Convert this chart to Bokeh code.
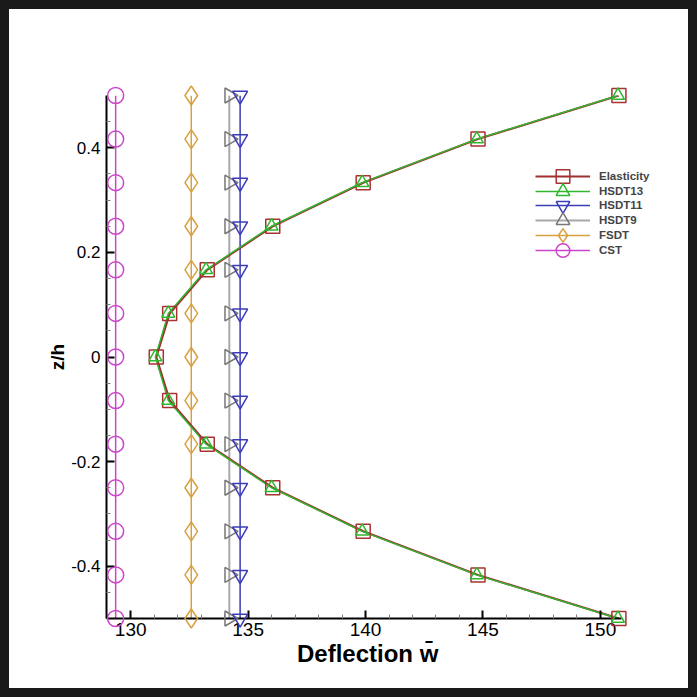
import numpy as np
from bokeh.plotting import figure
from bokeh.models import Legend, LegendItem, FixedTicker, Range1d
from bokeh.embed import file_html
from bokeh.resources import INLINE

# ---- data ----
z = [0.5, 0.4167, 0.3333, 0.25, 0.1667, 0.0833, 0.0,
     -0.0833, -0.1667, -0.25, -0.3333, -0.4167, -0.5]
elasticity = [150.79, 144.79, 139.90, 136.05, 133.26, 131.66, 131.09,
              131.66, 133.26, 136.05, 139.90, 144.79, 150.79]
hsdt13 = [150.75, 144.74, 139.86, 136.00, 133.21, 131.60, 131.05,
          131.60, 133.21, 136.00, 139.86, 144.74, 150.75]
hsdt11 = [134.66, 134.66, 134.66, 134.66, 134.66, 134.66, 134.66,
          134.66, 134.66, 134.66, 134.66, 134.66, 134.66]
hsdt9 = [134.20, 134.20, 134.20, 134.20, 134.20, 134.20, 134.20,
         134.20, 134.20, 134.20, 134.20, 134.20, 134.20]
fsdt = [132.58, 132.58, 132.58, 132.58, 132.58, 132.58, 132.58,
        132.58, 132.58, 132.58, 132.58, 132.58, 132.58]
cst = [129.36, 129.36, 129.36, 129.36, 129.36, 129.36, 129.36,
       129.36, 129.36, 129.36, 129.36, 129.36, 129.36]

x_ticks = [130, 135, 140, 145, 150]
x_tick_labels = ["130", "135", "140", "145", "150"]
x_minor = [129, 131, 132, 133, 134, 136, 137, 138, 139, 141, 142, 143, 144,
           146, 147, 148, 149]
y_ticks = [-0.4, -0.2, 0.0, 0.2, 0.4]
y_tick_labels = ["-0.4", "-0.2", "0", "0.2", "0.4"]
y_minor = [-0.45, -0.35, -0.3, -0.25, -0.15, -0.1, -0.05, 0.05, 0.1, 0.15,
           0.25, 0.3, 0.35, 0.45]
x_axis_bounds = (128.97, 150.9)

FONT = "Liberation Sans"

p = figure(width=697, height=697, output_backend="svg", toolbar_location=None,
           x_range=Range1d(128.97, 153.2), y_range=Range1d(-0.5, 0.5),
           min_border_left=106, min_border_right=22,
           min_border_top=95, min_border_bottom=79)
p.outline_line_color = None
p.grid.visible = False
# transparent canvas over a white host with a dark picture frame
p.background_fill_color = None
p.border_fill_color = None
p.styles = {"background-color": "white",
            "box-shadow": "inset 0 0 0 9px #1a1a1a"}

series = [
    # name, xs, line color, line width, marker, marker color, size, angle
    ("CST", cst, "#cc44cc", 1.5, "circle", "#cc44cc", 16, 0.0),
    ("FSDT", fsdt, "#d9a040", 1.5, "diamond", "#d9a040", 19, 0.0),
    ("HSDT9", hsdt9, "#a8a8a8", 2.0, "triangle", "#777777", 15, -np.pi / 2),
    ("HSDT11", hsdt11, "#3c3cb8", 1.5, "inverted_triangle", "#3c3cb8", 15, 0.0),
    ("Elasticity", elasticity, "#a03030", 2.2, "square", "#a83232", 14, 0.0),
    ("HSDT13", hsdt13, "#2fb82f", 1.4, "triangle", "#2fb82f", 13, 0.0),
]

items = {}
for name, xs, lc, lw, mk, mc, sz, ang in series:
    ln = p.line(xs, z, line_color=lc, line_width=lw)
    sc = p.scatter(xs, z, marker=mk, size=sz, angle=ang, fill_color=None,
                   line_color=mc, line_width=1.5)
    sc.level = "overlay"
    items[name] = [ln, sc]

# one legend box per entry so the markers can be large while rows stay close
order = ["Elasticity", "HSDT13", "HSDT11", "HSDT9", "FSDT", "CST"]
row_offsets = [425, 410, 396, 381, 366, 351]
for name, vy in zip(order, row_offsets):
    lg = Legend(items=[LegendItem(label=name, renderers=items[name])],
                location=(429, vy), glyph_width=55, glyph_height=34,
                label_height=34, spacing=0, padding=0, margin=0,
                label_standoff=9, border_line_color=None,
                background_fill_alpha=0,
                label_text_font=FONT, label_text_font_style="bold",
                label_text_font_size="11.5px")
    p.add_layout(lg)

xa = p.xaxis[0]
ya = p.yaxis[0]
xa.ticker = FixedTicker(ticks=x_ticks, minor_ticks=x_minor)
ya.ticker = FixedTicker(ticks=y_ticks, minor_ticks=y_minor)
xa.major_label_overrides = dict(zip(x_ticks, x_tick_labels))
ya.major_label_overrides = dict(zip(y_ticks, y_tick_labels))
xa.bounds = x_axis_bounds

for ax in (xa, ya):
    ax.axis_line_width = 2
    ax.axis_line_color = "black"
    ax.major_tick_in = 8
    ax.major_tick_out = 0
    ax.major_tick_line_width = 2
    ax.minor_tick_in = 4
    ax.minor_tick_out = 0
    ax.minor_tick_line_color = "#808080"
    ax.major_label_text_font = FONT
    ax.major_label_text_color = "black"
    ax.axis_label_text_font = FONT
    ax.axis_label_text_font_style = "bold"
    ax.axis_label_text_color = "black"

xa.major_label_text_font_size = "19px"
ya.major_label_text_font_size = "17px"
# trailing no-break spaces centre the title under the axis line rather than the frame
xa.axis_label = "Deflection w\u0304" + "\u00a0" * 7
xa.axis_label_text_font_size = "24px"
xa.axis_label_standoff = 1
ya.axis_label = "z/h"
ya.axis_label_text_font_size = "19px"
ya.axis_label_standoff = 0
xa.major_label_standoff = 4
ya.major_label_standoff = 6

open("out.html", "w").write(file_html(p, INLINE))
